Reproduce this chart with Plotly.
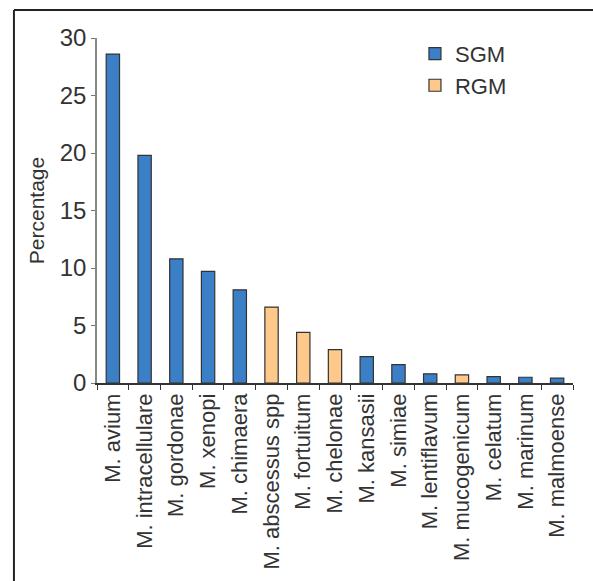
import plotly.graph_objects as go

# Species in display order with their share of isolates (%)
species = [
    "M. avium", "M. intracellulare", "M. gordonae", "M. xenopi", "M. chimaera",
    "M. abscessus spp", "M. fortuitum", "M. chelonae", "M. kansasii", "M. simiae",
    "M. lentiflavum", "M. mucogenicum", "M. celatum", "M. marinum", "M. malmoense",
]
percentage = [28.6, 19.8, 10.8, 9.7, 8.1, 6.6, 4.4, 2.9, 2.3, 1.6, 0.8, 0.7, 0.55, 0.5, 0.43]
group = ["SGM", "SGM", "SGM", "SGM", "SGM", "RGM", "RGM", "RGM", "SGM", "SGM",
         "SGM", "RGM", "SGM", "SGM", "SGM"]

colors = {"SGM": "#3b80c6", "RGM": "#fec98a"}
text_font = dict(family="Liberation Sans, Arial, sans-serif", color="#333333")

fig = go.Figure()
for g in ["SGM", "RGM"]:
    xs = [s for s, gg in zip(species, group) if gg == g]
    ys = [v for v, gg in zip(percentage, group) if gg == g]
    fig.add_trace(go.Bar(
        x=xs, y=ys, name=g, width=0.42,
        marker=dict(color=colors[g], line=dict(color="#333333", width=1.2)),
    ))

fig.update_layout(
    width=593, height=581,
    margin=dict(l=97, r=20, t=38, b=198),
    paper_bgcolor="white", plot_bgcolor="white",
    barmode="overlay",
    font=dict(size=18, **text_font),
    legend=dict(
        x=0.668, y=1.015, xanchor="left", yanchor="top",
        font=dict(size=22, **text_font),
        bgcolor="rgba(0,0,0,0)", tracegroupgap=0, itemwidth=30,
    ),
    showlegend=True,
    xaxis=dict(
        categoryorder="array", categoryarray=species,
        tickangle=-90, tickson="boundaries",
        ticks="outside", ticklen=5, tickcolor="#333333",
        showline=True, linecolor="#333333", linewidth=1.5,
        tickfont=dict(size=22, **text_font),
        showgrid=False, range=[-0.5, 14.5],
    ),
    yaxis=dict(
        range=[0, 30], tickvals=[0, 5, 10, 15, 20, 25, 30],
        ticks="outside", ticklen=4, tickcolor="#777777",
        ticklabelstandoff=0,
        showline=True, linecolor="#888888", linewidth=1.5,
        tickfont=dict(size=24, **text_font),
        showgrid=False, zeroline=False,
        title=dict(text="Percentage", font=dict(size=21, **text_font), standoff=9),
    ),
    shapes=[
        dict(type="line", xref="paper", yref="paper",
             x0=-0.1745, x1=1.2, y0=1.0812, y1=1.0812,
             line=dict(color="#222222", width=2)),
        dict(type="line", xref="paper", yref="paper",
             x0=-0.1745, x1=-0.1745, y0=1.0812, y1=-0.7,
             line=dict(color="#222222", width=2)),
    ],
)

fig.write_html("out.html")
